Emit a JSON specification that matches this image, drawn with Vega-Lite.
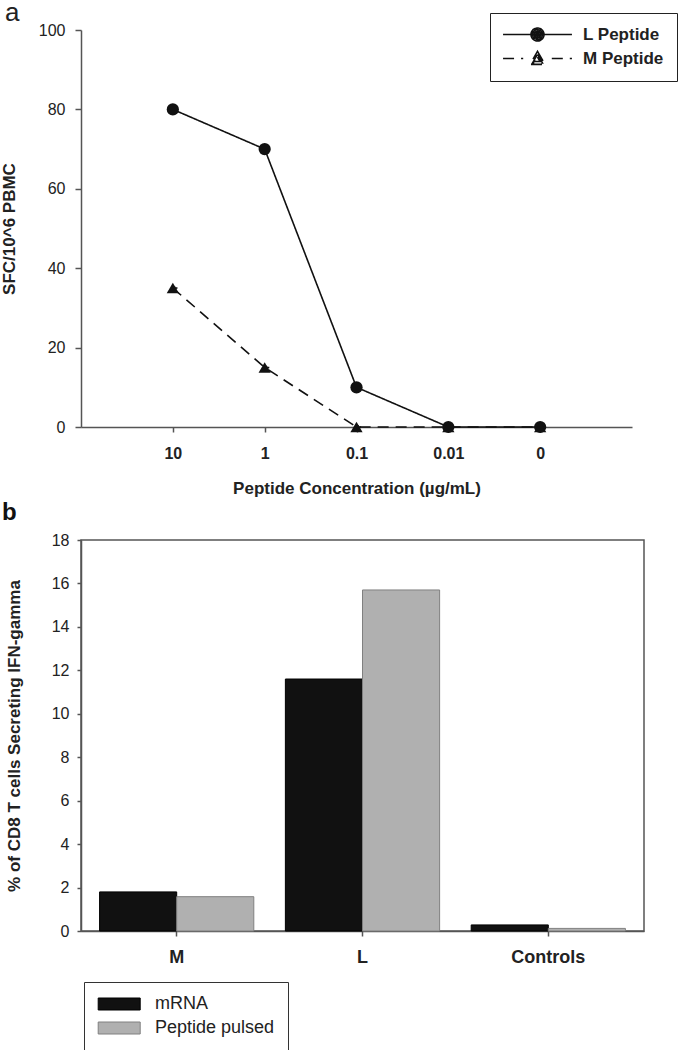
{
  "$schema": "https://vega.github.io/schema/vega-lite/v6.json",
  "padding": {"left": 0, "top": 0, "right": 0, "bottom": 0},
  "spacing": 4,
  "config": {
    "font": "Liberation Sans",
    "axis": {
      "grid": false,
      "domainColor": "#555",
      "tickColor": "#555",
      "domainWidth": 1.5,
      "tickWidth": 1.5,
      "tickSize": 5,
      "labelColor": "#222",
      "titleColor": "#222",
      "labelFontSize": 16,
      "titleFontSize": 17,
      "titleFontWeight": "bold"
    }
  },
  "vconcat": [
    {
      "width": 551,
      "height": 397,
      "view": {"stroke": null},
      "title": {"text": "a", "anchor": "start", "frame": "group", "dx": -76, "dy": 4, "fontSize": 26, "fontWeight": "normal", "color": "#222", "offset": 0},
      "data": {
        "values": [
          {"peptide": "L Peptide", "conc": "10", "sfc": 80},
          {"peptide": "L Peptide", "conc": "1", "sfc": 70},
          {"peptide": "L Peptide", "conc": "0.1", "sfc": 10},
          {"peptide": "L Peptide", "conc": "0.01", "sfc": 0},
          {"peptide": "L Peptide", "conc": "0", "sfc": 0},
          {"peptide": "M Peptide", "conc": "10", "sfc": 35},
          {"peptide": "M Peptide", "conc": "1", "sfc": 15},
          {"peptide": "M Peptide", "conc": "0.1", "sfc": 0},
          {"peptide": "M Peptide", "conc": "0.01", "sfc": 0},
          {"peptide": "M Peptide", "conc": "0", "sfc": 0}
        ]
      },
      "encoding": {
        "x": {
          "field": "conc", "type": "ordinal",
          "sort": ["10", "1", "0.1", "0.01", "0"],
          "scale": {"type": "point", "padding": 1},
          "axis": {"title": "Peptide Concentration (µg/mL)", "labelAngle": 0, "labelFontWeight": "bold", "labelPadding": 13, "titlePadding": 19}
        },
        "y": {
          "field": "sfc", "type": "quantitative",
          "scale": {"domain": [0, 100]},
          "axis": {"title": "SFC/10^6 PBMC", "values": [0, 20, 40, 60, 80, 100], "tickSize": 6, "labelPadding": 10, "titlePadding": 20}
        }
      },
      "layer": [
        {
          "mark": {"type": "point", "filled": false, "color": "#111", "strokeWidth": 1.6, "opacity": 1, "size": 1},
          "encoding": {
            "shape": {
              "field": "peptide", "type": "nominal",
              "scale": {
                "domain": ["L Peptide", "M Peptide"],
                "range": [
                  "M-1.3,0H9.3M5,0A1,1 0 1 1 3,0A1,1 0 1 1 5,0M4.75,0A0.75,0.75 0 1 1 3.25,0A0.75,0.75 0 1 1 4.75,0M4.5,0A0.5,0.5 0 1 1 3.5,0A0.5,0.5 0 1 1 4.5,0M4.25,0A0.25,0.25 0 1 1 3.75,0A0.25,0.25 0 1 1 4.25,0",
                  "M-1.3,0H1.8M6.2,0H9.3M4,-1.1L5.15,0.9L2.85,0.9ZM4,-0.647L4.76,0.673L3.24,0.673ZM4,-0.207L4.38,0.453L3.62,0.453Z"
                ]
              },
              "legend": {
                "title": null,
                "orient": "none",
                "legendX": 409,
                "legendY": -17,
                "strokeColor": "#222",
                "fillColor": "white",
                "padding": 13,
                "labelFontSize": 17,
                "labelFontWeight": "bold",
                "labelColor": "#222",
                "labelOffset": 63,
                "rowPadding": 3,
                "symbolSize": 169,
                "symbolOpacity": 1,
                "symbolFillColor": "#111",
                "symbolStrokeColor": "#111",
                "symbolStrokeWidth": 1.6
              }
            }
          }
        },
        {
          "mark": {"type": "line", "color": "#111", "strokeWidth": 1.6},
          "encoding": {
            "strokeDash": {
              "field": "peptide", "type": "nominal",
              "scale": {"domain": ["L Peptide", "M Peptide"], "range": [[1, 0], [11, 7]]},
              "legend": null
            }
          }
        },
        {
          "transform": [{"filter": "datum.peptide === 'L Peptide'"}],
          "mark": {"type": "point", "filled": true, "color": "#111", "opacity": 1, "size": 150, "shape": "circle"}
        },
        {
          "transform": [{"filter": "datum.peptide === 'M Peptide'"}],
          "mark": {"type": "point", "filled": true, "color": "#111", "opacity": 1, "size": 150, "shape": "triangle-up"}
        }
      ]
    },
    {
      "width": 563,
      "height": 391,
      "view": {"stroke": "#555", "strokeWidth": 1.5},
      "title": {"text": "b", "anchor": "start", "frame": "group", "dx": -79, "fontSize": 24, "fontWeight": "bold", "color": "#111", "offset": 7},
      "data": {
        "values": [
          {"group": "M", "treatment": "mRNA", "pct": 1.8},
          {"group": "M", "treatment": "Peptide pulsed", "pct": 1.58},
          {"group": "L", "treatment": "mRNA", "pct": 11.6},
          {"group": "L", "treatment": "Peptide pulsed", "pct": 15.7},
          {"group": "Controls", "treatment": "mRNA", "pct": 0.28},
          {"group": "Controls", "treatment": "Peptide pulsed", "pct": 0.12}
        ]
      },
      "mark": {"type": "bar", "strokeWidth": 1},
      "encoding": {
        "x": {
          "field": "group", "type": "nominal",
          "sort": ["M", "L", "Controls"],
          "scale": {"paddingInner": 0.17, "paddingOuter": 0.1},
          "axis": {"title": null, "labelAngle": 0, "labelFontSize": 18, "labelFontWeight": "bold", "labelPadding": 12, "tickSize": 5}
        },
        "xOffset": {"field": "treatment", "type": "nominal", "sort": ["mRNA", "Peptide pulsed"], "scale": {"paddingInner": 0, "paddingOuter": 0}},
        "y": {
          "field": "pct", "type": "quantitative",
          "scale": {"domain": [0, 18]},
          "axis": {"title": "% of CD8 T cells Secreting IFN-gamma", "values": [0, 2, 4, 6, 8, 10, 12, 14, 16, 18], "tickSize": 4, "labelPadding": 8, "titlePadding": 28}
        },
        "color": {
          "field": "treatment", "type": "nominal",
          "scale": {"domain": ["mRNA", "Peptide pulsed"], "range": ["#111111", "#b0b0b0"]},
          "legend": {
            "title": null,
            "orient": "none",
            "legendX": 3,
            "legendY": 952,
            "strokeColor": "#333",
            "fillColor": "white",
            "padding": 13,
            "labelFontSize": 18,
            "labelColor": "#222",
            "labelOffset": 40,
            "rowPadding": 6,
            "symbolSize": 144,
            "symbolType": "M-1.3,-1H5.7V1H-1.3Z",
            "symbolStrokeWidth": 1
          }
        },
        "stroke": {
          "field": "treatment", "type": "nominal",
          "scale": {"domain": ["mRNA", "Peptide pulsed"], "range": ["#000000", "#808080"]},
          "legend": null
        }
      }
    }
  ]
}
